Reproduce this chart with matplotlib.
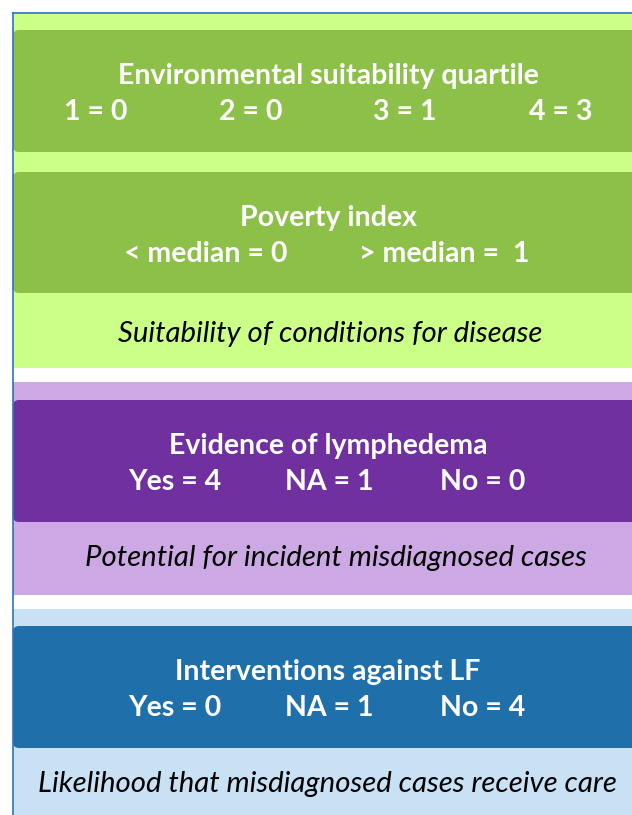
import matplotlib
matplotlib.use("Agg")
import matplotlib.pyplot as plt
from matplotlib.patches import Rectangle, FancyBboxPatch

# Content
titles = ["Environmental suitability quartile", "Poverty index",
          "Evidence of lymphedema", "Interventions against LF"]
score_rows = [["1 = 0", "2 = 0", "3 = 1", "4 = 3"],
              ["< median = 0", "> median =  1"],
              ["Yes = 4", "NA = 1", "No = 0"],
              ["Yes = 0", "NA = 1", "No = 4"]]
captions = ["Suitability of conditions for disease",
            "Potential for incident misdiagnosed cases",
            "Likelihood that misdiagnosed cases receive care"]

W, H = 632, 815
fig = plt.figure(figsize=(W / 100, H / 100), dpi=100)
ax = fig.add_axes([0, 0, 1, 1])
ax.set_xlim(0, W)
ax.set_ylim(H, 0)
ax.axis("off")

# layout (pixels)
L = 13
panels = [  # (top, bottom, light colour)
    (13, 368, "#CCFF88"),
    (382, 595, "#CCA9E4"),
    (609, 815, "#C9E1F4"),
]
boxes = [  # (top, bottom, colour)
    (30, 152, "#8DC048"),
    (172, 293, "#8DC048"),
    (400, 522, "#7030A0"),
    (626, 748, "#1F6FAA"),
]
row_x = [[96, 251, 405, 561], [206, 444], [175, 329, 483], [175, 329, 483]]
cap_pos = [(330, 334), (336, 558), (327, 784)]

for top, bot, col in panels:
    ax.add_patch(Rectangle((L, top), W - L + 5, bot - top, facecolor=col,
                           edgecolor="none", zorder=1))

for (top, bot, col), title, rows, xs in zip(boxes, titles, score_rows, row_x):
    ax.add_patch(FancyBboxPatch((L + 3, top + 3), W + 20 - L, bot - top - 6,
                                boxstyle="round,pad=3,rounding_size=6",
                                facecolor=col, edgecolor="none", zorder=2))
    ax.text(328, top + 46, title, color="white", fontsize=20.5,
            fontweight="bold", family="Lato", ha="center", va="center", zorder=3)
    for x, t in zip(xs, rows):
        ax.text(x, top + 82, t, color="white", fontsize=20.5,
                fontweight="bold", family="Lato", ha="center", va="center", zorder=3)

for (x, y), t in zip(cap_pos, captions):
    ax.text(x, y, t, color="black", fontsize=21.2, style="italic",
            family="Lato", ha="center", va="center", zorder=3)

# blue frame lines
ax.plot([L - 0.5, L - 0.5], [H, 12.5], color="#2E75B6", lw=1.2, zorder=4)
ax.plot([L - 0.5, W], [12.5, 12.5], color="#2E75B6", lw=1.2, zorder=4)

fig.savefig("out.png", dpi=100)
